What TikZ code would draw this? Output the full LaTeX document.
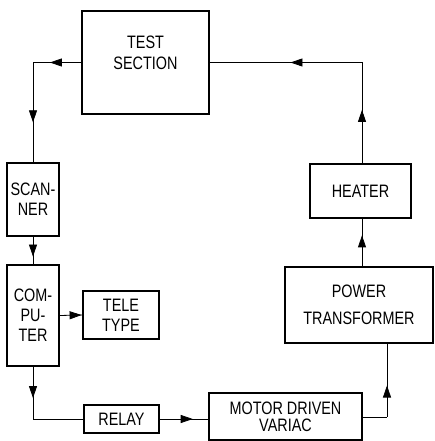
\documentclass[tikz,border=0pt]{standalone}
\usepackage{fontspec}
\newfontfamily\diafont{Liberation Sans}[FakeStretch=0.8]
\usetikzlibrary{arrows.meta,decorations.markings}
\tikzset{
  block/.style={draw,line width=1.5pt,align=center,inner sep=0pt,
    font=\diafont\fontsize{18}{20}\selectfont},
  lbl/.style={align=center,inner sep=0pt,font=\diafont\fontsize{18}{21}\selectfont},
  flow/.style={line width=0.8pt},
  midarrow/.style={postaction={decorate},decoration={markings,
    mark=at position #1 with {\arrow{Triangle[length=12pt,width=8pt]}}}},
  midarrow/.default=0.55
}

\begin{document}
\begin{tikzpicture}[x=1pt,y=1pt]
      \useasboundingbox (0,0) rectangle (434,441);
      % blocks
      \node[block,minimum width=127,minimum height=103] (test) at (145.5,378.5) {};
      \node[lbl] (testtxt) at ([yshift=10]test.center) {TEST\\SECTION};
      \node[block,minimum width=52,minimum height=73] (scanner) at (33,241.5) {SCAN-\\NER};
      \node[block,minimum width=52,minimum height=101] (computer) at (33,125.5) {COM-\\PU-\\TER};
      \node[block,minimum width=76,minimum height=48] (teletype) at (121,126) {TELE\\TYPE};
      \node[block,minimum width=75,minimum height=28] (relay) at (121.5,22) {RELAY};
      \node[block,minimum width=153,minimum height=47] (motor) at (285.5,24.5) {MOTOR DRIVEN\\[-3pt]VARIAC};
      \node[block,minimum width=148,minimum height=76] (power) at (359,136) {POWER\\[7pt]TRANSFORMER};
      \node[block,minimum width=101,minimum height=54] (heater) at (360.5,250) {HEATER};
      % corners
      \coordinate (c1) at (33,378.5);
      \coordinate (c2) at (362,378.5);
      \coordinate (c3) at (33,22);
      \coordinate (c4) at (387,24);
      % connectors
      \draw[flow,midarrow=0.65] (test.west) -- (c1);
      \draw[flow,midarrow=0.6] (c1) -- (scanner.north);
      \draw[flow,midarrow=0.53] (c2 |- heater.north) -- (c2);
      \draw[flow,midarrow=0.47] (c2) -- (test.east);
      \draw[flow,midarrow=0.72] (scanner.south) -- (computer.north);
      \draw[flow,midarrow=0.97] (computer.east) -- (teletype.west);
      \draw[flow,midarrow=0.6] (computer.south) -- (c3);
      \draw[flow] (c3) -- (relay.west);
      \draw[flow,midarrow=0.68] (relay.east) -- (relay.east -| motor.west);
      \draw[flow] (motor.east |- c4) -- (c4);
      \draw[flow,midarrow=0.43] (c4) -- (c4 |- power.south);
      \draw[flow,midarrow=0.65] (c2 |- power.north) -- (c2 |- heater.south);
    \end{tikzpicture}
\end{document}
